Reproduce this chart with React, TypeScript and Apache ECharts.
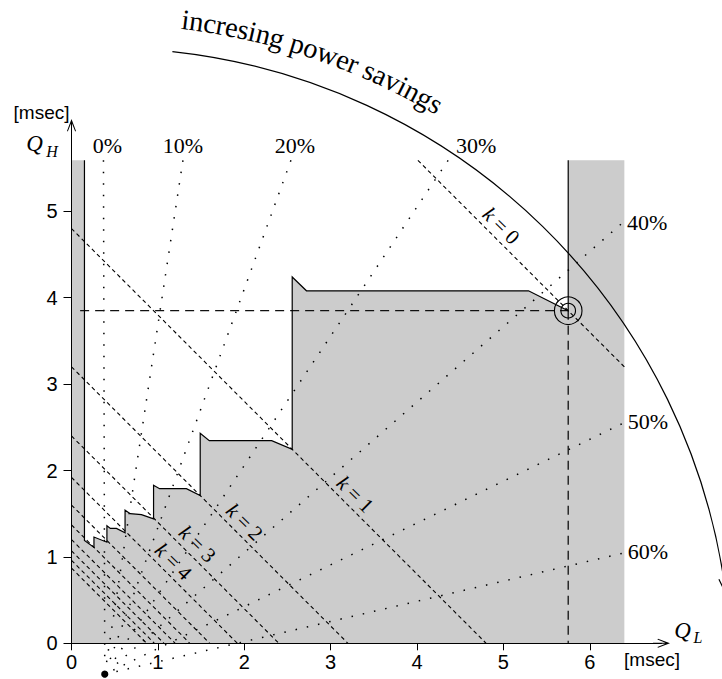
import React, { useEffect, useRef } from "react";
import * as echarts from "echarts";

// ---------------- axes ----------------
const xTickValues = [0, 1, 2, 3, 4, 5, 6];
const yTickValues = [0, 1, 2, 3, 4, 5];
const xAxisEnd = 6.83;
const yAxisEnd = 5.97;

// ---------------- shaded region (gray) ----------------
const regionTop = 5.59;
const regionRight = 6.4;
// white/gray border, from top of left strip, down the staircase, up to top of right strip
const stairX = [0.15, 0.15, 0.26, 0.26, 0.41, 0.41, 0.45, 0.52, 0.62, 0.62, 0.68, 0.81, 0.95, 0.95, 1.02, 1.33, 1.49, 1.49, 1.595, 2.317, 2.555, 2.555, 2.72, 5.29, 5.75, 5.75];
const stairY = [5.59, 1.19, 1.11, 1.23, 1.17, 1.36, 1.33, 1.33, 1.28, 1.54, 1.5, 1.49, 1.44, 1.83, 1.79, 1.79, 1.71, 2.43, 2.345, 2.345, 2.245, 4.24, 4.08, 4.08, 3.85, 5.59];

// ---------------- operating point ----------------
const opX = 5.75;
const opY = 3.85;
const crossStartX = 0.1;

// ---------------- k lines (Q_L + Q_H = const) ----------------
const kSums = [9.6, 4.8, 3.2, 2.4, 1.92, 1.6, 1.37, 1.2, 1.07, 0.96, 0.87];
const kLabels = ["0", "1", "2", "3", "4"];
const kLabelX = [4.87, 3.18, 1.9, 1.354, 1.076];

// ---------------- power-saving lines ----------------
const fanX = 0.385;
const fanY = -0.358;
const pctLabels = ["0%", "10%", "20%", "30%", "40%", "50%", "60%"];
const pctEndX = [0.37, 1.29, 2.54, 4.36, 6.36, 6.37, 6.37];
const pctEndY = [5.59, 5.59, 5.59, 5.59, 4.85, 2.54, 1.04];
const pctLabelSide = ["top", "top", "top", "top", "right", "right", "right"];
const pctLabelShift = [4, 0, 4, 28, 6, 6, 6];

// ---------------- arc ----------------
const arcRadius = 7.25;
const arcStartDeg = 6.2;
const arcEndDeg = 82.5;
const arcText = "incresing power savings";
const arcTextStartDeg = 6.7;

const SERIF = '"Liberation Serif", "DejaVu Serif", serif';
const SANS = '"Liberation Sans", Arial, sans-serif';
const ARROW = "path://M4.5,0 L9,12 L8.2,12.6 L5,4.6 L5,17 L4,17 L4,4.6 L0.8,12.6 L0,12 Z";

const measureCanvas = typeof document !== "undefined" ? document.createElement("canvas") : null;
function textWidth(s: string, font: string): number {
  if (!measureCanvas) return s.length * 10;
  const ctx = measureCanvas.getContext("2d");
  if (!ctx) return s.length * 10;
  ctx.font = font;
  return ctx.measureText(s).width;
}

function seg(p1: number[], p2: number[], style: any) {
  return { type: "line", shape: { x1: p1[0], y1: p1[1], x2: p2[0], y2: p2[1] }, style };
}

function renderRegion(_params: any, api: any) {
  const pts: number[][] = [[0, 0], [0, regionTop]];
  stairX.forEach((x, i) => pts.push([x, stairY[i]]));
  pts.push([regionRight, regionTop], [regionRight, 0]);
  return {
    type: "polygon",
    shape: { points: pts.map((p) => api.coord(p)) },
    style: { fill: "#cccccc", stroke: null },
  };
}

function renderOverlay(_params: any, api: any) {
  const children: any[] = [];
  const dotted = { stroke: "#000", lineWidth: 1.5, lineDash: [1.5, 10], fill: null };
  const kDash = { stroke: "#000", lineWidth: 1.1, lineDash: [4, 3.2], fill: null };
  const longDash = { stroke: "#111", lineWidth: 1.3, lineDash: [9, 6], fill: null };

  // power-saving lines
  const fanP = api.coord([fanX, fanY]);
  pctEndX.forEach((ex, i) => {
    const ey = pctEndY[i];
    const dx = ex - fanX;
    const dy = ey - fanY;
    const len = Math.hypot(dx, dy);
    const s = [fanX + (dx / len) * 0.1, fanY + (dy / len) * 0.1];
    const p1 = api.coord(s);
    const p2 = api.coord([ex, ey]);
    children.push(seg(p2, p1, dotted));
    const side = pctLabelSide[i];
    children.push({
      type: "text",
      x: p2[0] + pctLabelShift[i],
      y: side === "top" ? p2[1] - 15 : p2[1] - 2,
      style: {
        text: pctLabels[i],
        fontFamily: SERIF,
        fontSize: 22,
        fill: "#000",
        align: side === "top" ? "center" : "left",
        verticalAlign: "middle",
      },
    });
  });

  // k lines
  kSums.forEach((c) => {
    const sx = Math.max(0, c - regionTop);
    const ex = Math.min(regionRight, c);
    children.push(seg(api.coord([sx, c - sx]), api.coord([ex, c - ex]), kDash));
  });
  kLabels.forEach((lab, i) => {
    const x = kLabelX[i];
    const p = api.coord([x, kSums[i] - x]);
    children.push({
      type: "text",
      x: p[0] + 1.5,
      y: p[1] - 1.5,
      rotation: -Math.PI / 4,
      style: {
        text: "{i|k} = " + lab,
        fontFamily: SERIF,
        fontSize: 21,
        fill: "#000",
        align: "center",
        verticalAlign: "bottom",
        rich: { i: { fontFamily: SERIF, fontStyle: "italic", fontSize: 21, fill: "#000" } },
      },
    });
  });

  // crosshair through operating point
  const op = api.coord([opX, opY]);
  children.push(seg(api.coord([crossStartX, opY]), op, longDash));
  children.push(seg(op, api.coord([opX, 0]), longDash));

  // staircase border
  children.push({
    type: "polyline",
    shape: { points: stairX.map((x, i) => api.coord([x, stairY[i]])) },
    style: { stroke: "#000", lineWidth: 1.2, fill: null },
  });

  // operating point marker
  children.push({ type: "circle", shape: { cx: op[0], cy: op[1], r: 13.8 }, style: { fill: null, stroke: "#000", lineWidth: 1.1 } });
  children.push({ type: "circle", shape: { cx: op[0], cy: op[1], r: 7.3 }, style: { fill: null, stroke: "#000", lineWidth: 1.1 } });

  // fan origin dot
  children.push({ type: "circle", shape: { cx: fanP[0], cy: fanP[1], r: 3.6 }, style: { fill: "#000" } });

  // outer arc
  const rPx = api.size([arcRadius, 0])[0];
  const d2r = Math.PI / 180;
  const a0 = arcStartDeg * d2r;
  const a1 = arcEndDeg * d2r;
  children.push({
    type: "arc",
    shape: { cx: fanP[0], cy: fanP[1], r: rPx, startAngle: a0 - Math.PI / 2, endAngle: a1 - Math.PI / 2, clockwise: true },
    style: { stroke: "#000", lineWidth: 1.2, fill: null },
  });
  const E = [fanP[0] + rPx * Math.sin(a1), fanP[1] - rPx * Math.cos(a1)];
  const t = [Math.cos(a1), Math.sin(a1)];
  const n = [Math.sin(a1), -Math.cos(a1)];
  children.push({
    type: "polyline",
    shape: {
      points: [
        [E[0] - 14 * t[0] + 5 * n[0], E[1] - 14 * t[1] + 5 * n[1]],
        [E[0] + 1 * t[0], E[1] + 1 * t[1]],
        [E[0] - 14 * t[0] - 5 * n[0], E[1] - 14 * t[1] - 5 * n[1]],
      ],
    },
    style: { stroke: "#000", lineWidth: 1.2, fill: null },
  });

  // curved text
  const fontSize = 28.5;
  const font = `${fontSize}px ${SERIF}`;
  const rText = rPx + 33;
  let cum = 0;
  for (const ch of arcText) {
    const w = textWidth(ch, font);
    const th = arcTextStartDeg * d2r + (cum + w / 2) / rText;
    cum += w;
    if (ch === " ") continue;
    children.push({
      type: "text",
      x: fanP[0] + rText * Math.sin(th),
      y: fanP[1] - rText * Math.cos(th),
      rotation: -th,
      style: { text: ch, fontFamily: SERIF, fontSize, fill: "#000", align: "center", verticalAlign: "middle" },
    });
  }

  // axis titles
  const yTip = api.coord([0, yAxisEnd]);
  yTip[1] -= 8.5;
  const xTip = api.coord([xAxisEnd, 0]);
  xTip[0] += 8.5;
  children.push({ type: "text", x: yTip[0] - 30, y: yTip[1] - 7, style: { text: "[msec]", fontFamily: SANS, fontSize: 19, fill: "#000", align: "center", verticalAlign: "middle" } });
  children.push({ type: "text", x: yTip[0] - 37, y: yTip[1] + 24, style: { text: "Q", fontFamily: SERIF, fontStyle: "italic", fontSize: 23, fill: "#000", align: "center", verticalAlign: "middle" } });
  children.push({ type: "text", x: yTip[0] - 19.5, y: yTip[1] + 32, style: { text: "H", fontFamily: SERIF, fontStyle: "italic", fontSize: 16, fill: "#000", align: "center", verticalAlign: "middle" } });
  children.push({ type: "text", x: xTip[0] + 12.5, y: xTip[1] - 13, style: { text: "Q", fontFamily: SERIF, fontStyle: "italic", fontSize: 23, fill: "#000", align: "center", verticalAlign: "middle" } });
  children.push({ type: "text", x: xTip[0] + 28, y: xTip[1] - 6, style: { text: "L", fontFamily: SERIF, fontStyle: "italic", fontSize: 16, fill: "#000", align: "center", verticalAlign: "middle" } });
  children.push({ type: "text", x: xTip[0] - 18, y: xTip[1] + 16, style: { text: "[msec]", fontFamily: SANS, fontSize: 19, fill: "#000", align: "center", verticalAlign: "middle" } });

  return { type: "group", children };
}

function axisCommon(ticks: number[], max: number, tickLen: number, margin: number) {
  return {
    type: "value",
    min: 0,
    max,
    z: 10,
    axisLine: {
      show: true,
      onZero: false,
      symbol: ["none", ARROW],
      symbolSize: [9, 17],
      lineStyle: { color: "#000", width: 1 },
    },
    axisTick: { show: true, length: tickLen, customValues: ticks, lineStyle: { color: "#000", width: 1 } },
    axisLabel: { show: true, customValues: ticks, margin, fontSize: 20, fontFamily: SANS, color: "#000" },
    splitLine: { show: false },
  };
}

export default function App() {
  const ref = useRef<HTMLDivElement>(null);
  useEffect(() => {
    if (!ref.current) return;
    const chart = echarts.init(ref.current, undefined, { renderer: "svg" });
    chart.setOption({
      animation: false,
      backgroundColor: "#ffffff",
      grid: { left: 71.5, right: 60.5, top: 127.5, bottom: 35.7, containLabel: false, outerBoundsMode: "none" },
      xAxis: axisCommon(xTickValues, xAxisEnd, 7, 9),
      yAxis: axisCommon(yTickValues, yAxisEnd, 8, 14),
      series: [
        { type: "custom", coordinateSystem: "cartesian2d", data: [[0, 0]], renderItem: renderRegion, z: 1, silent: true, clip: false },
        { type: "custom", coordinateSystem: "cartesian2d", data: [[0, 0]], renderItem: renderOverlay, z: 3, silent: true, clip: false },
      ],
    });
    return () => chart.dispose();
  }, []);
  return <div ref={ref} style={{ position: "absolute", left: 0, top: 0, width: 722, height: 679, background: "#fff" }} />;
}
